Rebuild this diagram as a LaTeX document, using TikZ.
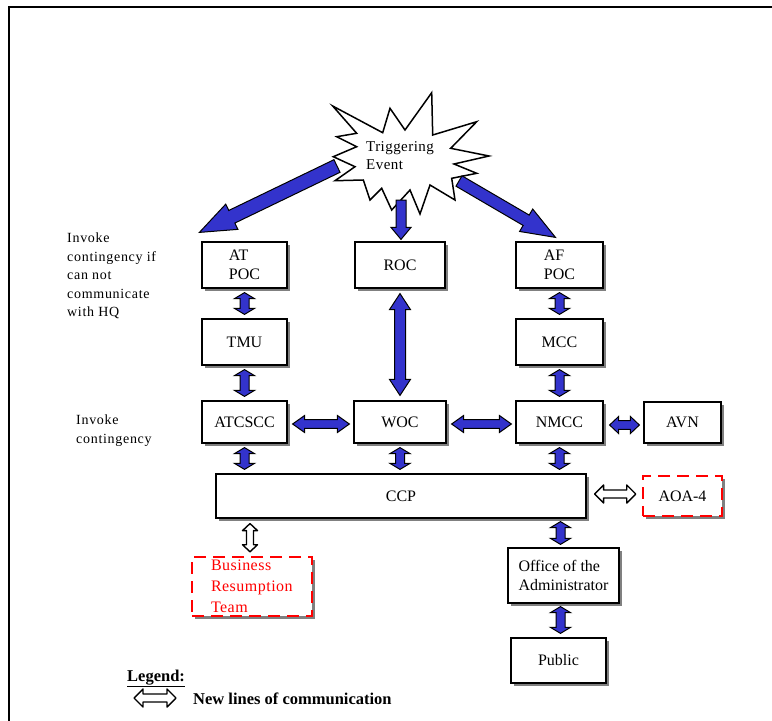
\documentclass[tikz,border=0pt]{standalone}
\usepackage{fontspec}
\setmainfont{Liberation Serif}
\newfontfamily\spacedfont[LetterSpace=5]{Liberation Serif}
\newfontfamily\slightfont[LetterSpace=3]{Liberation Serif}
\usetikzlibrary{calc,shadows}
\definecolor{arrowblue}{RGB}{51,51,204}
\definecolor{shadowgray}{RGB}{128,128,128}
% double-headed fat arrow: #1 style, #2 start, #3 end, #4 shaft half width, #5 head half width, #6 head length
\newcommand\dblarrow[6]{%
  \path (#2) coordinate (S) (#3) coordinate (E);
  \path ($(S)!#6!(E)$) coordinate (Hs) ($(E)!#6!(S)$) coordinate (He);
  \draw[#1] (S) -- ($(Hs)!#5!90:(E)$) -- ($(Hs)!#4!90:(E)$) -- ($(He)!#4!90:(E)$)
    -- ($(He)!#5!90:(E)$) -- (E) -- ($(He)!#5!-90:(E)$) -- ($(He)!#4!-90:(E)$)
    -- ($(Hs)!#4!-90:(E)$) -- ($(Hs)!#5!-90:(E)$) -- cycle;}
% single-headed fat arrow
\newcommand\sglarrow[6]{%
  \path (#2) coordinate (S) (#3) coordinate (E);
  \path ($(E)!#6!(S)$) coordinate (He);
  \draw[#1] ($(S)!#4!90:(E)$) -- ($(He)!#4!90:(E)$) -- ($(He)!#5!90:(E)$) -- (E)
    -- ($(He)!#5!-90:(E)$) -- ($(He)!#4!-90:(E)$) -- ($(S)!#4!-90:(E)$) -- cycle;}
\begin{document}
\begin{tikzpicture}[x=1pt,y=-1pt,
  box/.style={draw, line width=1.2pt, fill=white,
    drop shadow={shadow xshift=3pt, shadow yshift=-3pt, fill=shadowgray, opacity=1},
    inner sep=2pt, font=\fontsize{16}{19}\selectfont, align=left},
  redbox/.style={draw=red, line width=2.5pt, dash pattern=on 12pt off 7pt, fill=white,
    drop shadow={shadow xshift=3pt, shadow yshift=-3pt, fill=shadowgray, opacity=1},
    inner sep=2pt, font=\fontsize{16}{21}\selectfont, align=left},
  bluearr/.style={fill=arrowblue, draw=black, line width=1pt, line join=miter},
  hollowarr/.style={fill=white, draw=black, line width=1.4pt, line join=round},
  starstyle/.style={draw=black, fill=white, line width=1.5pt, line join=miter},
  lbl/.style={font=\spacedfont\fontsize{14}{18.5}\selectfont, align=left, inner sep=0pt},
  legendtxt/.style={font=\bfseries\fontsize{16.5}{19}\selectfont, inner sep=0pt}]
\useasboundingbox (0,0) rectangle (772,721);
% frame
\draw[line width=2pt] (772,7) -- (9,7) -- (9,721);

% triggering event starburst
\draw[starstyle] (332.7,106) -- (382.7,132.7) -- (390,108.3) -- (405,130) -- (431.7,92.7)
  -- (432.7,135) -- (476.7,121.7) -- (450.7,148.3) -- (489,156) -- (454,164)
  -- (476.7,173.3) -- (451.7,178.3) -- (455,200) -- (430,185) -- (420,214)
  -- (410,190) -- (391.7,210) -- (381.7,188.3) -- (370,200) -- (363.3,180)
  -- (335,180.7) -- (355,166.7) -- (333.3,156.7) -- (356.7,146.7) -- (336.7,136.7)
  -- (356.7,133.3) -- cycle;
\node[align=left, inner sep=0pt, anchor=west, font=\slightfont\fontsize{15}{18}\selectfont] (trig) at (366,156) {Triggering\\Event};
\coordinate (stl) at (337,166);
\coordinate (sbm) at (401,200);
\coordinate (str) at (459,181);

% boxes
\node[box, minimum width=85pt, minimum height=46pt] (atpoc) at (244.5,265) {AT\\POC};
\node[box, minimum width=90pt, minimum height=46pt] (roc) at (400,265) {ROC};
\node[box, minimum width=87pt, minimum height=46pt] (afpoc) at (559.5,265) {AF\\POC};
\node[box, minimum width=85pt, minimum height=46pt] (tmu) at (244.5,342) {TMU};
\node[box, minimum width=87pt, minimum height=46pt] (mcc) at (559.5,342) {MCC};
\node[box, minimum width=85pt, minimum height=42pt] (atcscc) at (244.5,422) {ATCSCC};
\node[box, minimum width=92pt, minimum height=42pt] (woc) at (400,422) {WOC};
\node[box, minimum width=87pt, minimum height=42pt] (nmcc) at (559.5,422) {NMCC};
\node[box, minimum width=77pt, minimum height=41pt] (avn) at (682.5,422.5) {AVN};
\node[box, minimum width=370pt, minimum height=44pt] (ccp) at (401,496) {CCP};
\node[redbox, minimum width=79pt, minimum height=40pt] (aoa) at (682.5,496) {AOA-4};
\node[redbox, text width=82pt, inner xsep=19pt, minimum height=59pt, text=red, font=\slightfont\fontsize{16}{21}\selectfont] (brt) at (252,586.5) {Business\\Resumption\\Team};
\node[box, minimum width=111pt, minimum height=55pt, inner sep=1pt] (office) at (563.5,575.5) {Office of the\\Administrator};
\node[box, minimum width=95pt, minimum height=45pt] (public) at (558.5,660.5) {Public};

% side labels
\node[lbl, anchor=north west] (lab1) at (67,233) {Invoke\\contingency if\\can not\\communicate\\with HQ};
\node[lbl, anchor=north west] (lab2) at (76,415) {Invoke\\contingency};

% arrows from triggering event
\sglarrow{bluearr}{stl}{$(atpoc.north west)+(-2pt,9pt)$}{7pt}{14pt}{36pt}
\sglarrow{bluearr}{sbm}{$(roc.north)+(1pt,2pt)$}{5pt}{10pt}{12pt}
\sglarrow{bluearr}{str}{$(afpoc.north)+(-4pt,4pt)$}{6pt}{13pt}{34pt}

% vertical blue arrows
\dblarrow{bluearr}{$(atpoc.south)+(0pt,-4pt)$}{$(tmu.north)+(0pt,4pt)$}{4.5pt}{10pt}{6pt}
\dblarrow{bluearr}{$(tmu.south)+(0pt,-4pt)$}{$(atcscc.north)+(0pt,4pt)$}{4.5pt}{10pt}{6pt}
\dblarrow{bluearr}{$(atcscc.south)+(0pt,-4pt)$}{$(ccp.north -| atcscc.south)+(0pt,4pt)$}{4.5pt}{10pt}{6pt}
\dblarrow{bluearr}{$(roc.south)+(0pt,-5pt)$}{$(woc.north)+(0pt,5pt)$}{5.5pt}{10.5pt}{16pt}
\dblarrow{bluearr}{$(woc.south)+(0pt,-4pt)$}{$(ccp.north -| woc.south)+(0pt,4pt)$}{4.5pt}{10pt}{6pt}
\dblarrow{bluearr}{$(afpoc.south)+(0pt,-4pt)$}{$(mcc.north)+(0pt,4pt)$}{4.5pt}{10pt}{6pt}
\dblarrow{bluearr}{$(mcc.south)+(0pt,-4pt)$}{$(nmcc.north)+(0pt,4pt)$}{4.5pt}{10pt}{6pt}
\dblarrow{bluearr}{$(nmcc.south)+(0pt,-4pt)$}{$(ccp.north -| nmcc.south)+(0pt,4pt)$}{4.5pt}{10pt}{6pt}
\dblarrow{bluearr}{$(ccp.south -| nmcc.south)+(1pt,-3pt)$}{$(office.north -| nmcc.south)+(1pt,3pt)$}{4.5pt}{10pt}{6pt}
\dblarrow{bluearr}{$(office.south -| nmcc.south)+(1pt,-3pt)$}{$(public.north -| nmcc.south)+(1pt,4pt)$}{4.5pt}{10pt}{6pt}

% horizontal blue arrows
\dblarrow{bluearr}{$(atcscc.east)+(5pt,-2pt)$}{$(woc.west)+(-4pt,-2pt)$}{4.3pt}{8.5pt}{12pt}
\dblarrow{bluearr}{$(woc.east)+(5pt,-2pt)$}{$(nmcc.west)+(-4pt,-2pt)$}{4.3pt}{8.5pt}{12pt}
\dblarrow{bluearr}{$(nmcc.east)+(6pt,-3pt)$}{$(avn.west)+(-4pt,-2.5pt)$}{4.3pt}{8.5pt}{9pt}

% hollow arrows (new lines of communication)
\dblarrow{hollowarr}{$(ccp.east)+(8pt,2pt)$}{$(aoa.west)+(-6pt,2pt)$}{4pt}{9pt}{9pt}
\dblarrow{hollowarr}{$(ccp.south -| brt.north)+(-2pt,-5pt)$}{$(brt.north)+(-2pt,4pt)$}{3.5pt}{7.5pt}{7pt}

% legend
\node[legendtxt, anchor=base west] (legend) at (127,681) {\underline{Legend:}};
\coordinate (lg1) at (134,698);
\coordinate (lg2) at (176,698);
\dblarrow{hollowarr}{lg1}{lg2}{4pt}{9pt}{9pt}
\node[legendtxt, anchor=base west] (legdesc) at (193,704) {New lines of communication};
\end{tikzpicture}
\end{document}
